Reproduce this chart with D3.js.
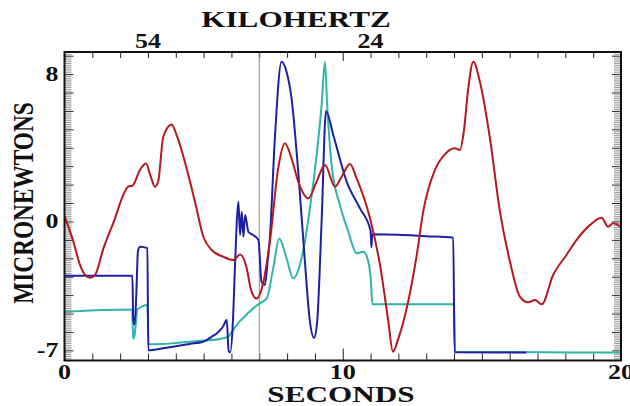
<!DOCTYPE html>
<html>
<head>
<meta charset="utf-8">
<script src="https://cdn.jsdelivr.net/npm/d3@7"></script>
<style>
body { margin: 0; background: #fff; }
.lbl { font-family: "Liberation Serif", "Times New Roman", serif; font-weight: bold; fill: #111; }
</style>
</head>
<body>
<div id="chart"></div>
<script>
// seconds, micronewtons
var redSeries = [[0,0.3],[0.32,-1.1],[0.56,-2.37],[0.74,-2.9],[0.92,-3.06],[1.1,-2.9],[1.4,-1.46],[1.8,0.1],[2.11,1.43],[2.29,1.89],[2.45,1.95],
  [2.71,2.79],[2.93,3.15],[3.1,2.43],[3.25,1.89],[3.37,2.2],[3.55,4.6],[3.85,5.27],[4.03,4.69],[4.39,2.88],[4.69,1.07],[4.99,-0.83],
  [5.29,-1.55],[5.71,-1.92],[6.07,-2.1],[6.31,-1.79],[6.55,-2.55],[6.7,-3.7],[6.9,-4.18],[7.15,-3.27],[7.38,-1.1],[7.68,2.88],[7.92,4.24],
  [8.16,3.42],[8.4,2.16],[8.76,1.25],[9.06,2.16],[9.36,3.06],[9.72,1.89],[9.96,2.43],[10.26,3.12],[10.5,2.34],[10.98,0.17],[11.34,-2.37],
  [11.64,-5.45],[11.8,-7.07],[12.0,-6.35],[12.35,-4.36],[12.66,-1.82],[12.89,0.53],[13.31,2.79],[13.67,3.64],[14.03,3.97],[14.21,3.88],
  [14.35,4.87],[14.51,7.22],[14.69,8.67],[14.93,7.58],[15.29,4.51],[15.65,0.53],[16.01,-2.19],[16.37,-4.09],[16.67,-4.39],[16.91,-4.27],
  [17.15,-4.5],[17.56,-2.91],[18.04,-1.82],[18.4,-1.01],[18.88,-0.2],[19.3,0.2],[19.54,-0.29],[19.72,-0.1],[20,-0.3]];

var blueSeries = [[0,-2.95],[2.44,-2.95],[2.47,-5.3],[2.52,-5.6],[2.58,-4.0],[2.64,-1.6],[2.72,-1.37],[2.98,-1.45],[3.01,-7.0],[3.5,-6.9],
  [4.0,-6.78],[4.5,-6.65],[4.99,-6.53],[5.3,-6.25],[5.47,-6.08],[5.7,-5.7],[5.83,-5.35],[5.9,-7.05],[5.96,-7.1],[6.05,-5.5],[6.13,-2.3],
  [6.2,0.2],[6.25,1.07],[6.31,-0.74],[6.37,0.53],[6.43,-0.83],[6.49,0.35],[6.61,-0.56],[6.78,-0.74],[6.97,-1.0],[7.08,-3.27],[7.2,-3.45],
  [7.3,-2.2],[7.38,-0.92],[7.56,4.51],[7.8,8.67],[7.98,8.13],[8.16,6.68],[8.4,2.7],[8.64,-2.19],[8.82,-5.45],[8.97,-6.31],[9.08,-5.45],
  [9.24,0],[9.4,5.99],[9.66,4.69],[10.14,2.16],[10.62,0.71],[11.0,-0.5],[11.03,-1.4],[11.06,-0.7],[12,-0.72],[13,-0.8],[13.97,-0.88],
  [14.02,-7.1],[16.6,-7.12]];

var cyanSeries = [[0,-4.9],[2.43,-4.78],[2.47,-6.3],[2.5,-6.35],[2.56,-5.6],[2.62,-4.78],[2.98,-4.54],[3.02,-6.67],[3.5,-6.66],[4.0,-6.6],
  [4.5,-6.53],[5.0,-6.47],[5.59,-6.38],[5.89,-6.26],[6.01,-6.0],[6.31,-5.4],[6.55,-5.05],[6.78,-4.72],[7.01,-4.45],[7.27,-4.18],[7.5,-2.55],
  [7.72,-0.92],[7.98,-2.0],[8.22,-3.09],[8.52,-2.0],[8.82,0.71],[9.06,3.6],[9.24,6.32],[9.36,8.67],[9.44,6.32],[9.6,3.06],[9.9,0.89],
  [10.2,-0.56],[10.5,-1.73],[10.74,-1.64],[10.92,-2.19],[11.0,-3.0],[11.07,-4.5],[14.0,-4.5],[14.03,-7.07],[20,-7.12]];

var xTickLabels = [0, 10, 20];
var yTickLabels = [8, 0, -7];
var khzTickPos = [3, 11];
var khzTickLabels = ["54", "24"];
var markerTime = 7;

var width = 630;
var height = 406;
var plotLeft = 64.5, plotRight = 621, plotTop = 52, plotBottom = 360.5;
var stretch = 1.3;

var svg = d3.select("#chart").append("svg").attr("width", width).attr("height", height);
svg.append("rect").attr("width", width).attr("height", height).attr("fill", "#fff");

var x = d3.scaleLinear().domain([0, 20]).range([plotLeft, plotRight]);
var y = d3.scaleLinear().domain([-7.55, 9.2]).range([plotBottom, plotTop]);

svg.append("clipPath").attr("id", "plotclip").append("rect")
  .attr("x", plotLeft).attr("y", plotTop).attr("width", plotRight - plotLeft).attr("height", plotBottom - plotTop);

// inward ticks, drawn with d3 axes
var seconds = d3.range(0, 21);
var minorY = d3.range(-75, 92).map(function(i) { return i / 10; });

function styleTicks(g, majorTest, majorLen, minorLen, sign, dir) {
  g.select(".domain").remove();
  g.selectAll(".tick line")
    .attr("stroke", function(d) { return majorTest(d) ? "#222" : "#9a9a9a"; })
    .attr("stroke-width", 1)
    .attr(dir, function(d) { return sign * (majorTest(d) ? majorLen : minorLen); });
}

svg.append("g").attr("transform", "translate(0," + plotBottom + ")")
  .call(d3.axisBottom(x).tickValues(seconds).tickFormat(""))
  .call(styleTicks, function(d) { return d % 10 === 0; }, 12, 7, -1, "y2")
  .selectAll(".tick line").attr("stroke", "#222");

svg.append("g").attr("transform", "translate(0," + plotTop + ")")
  .call(d3.axisTop(x).tickValues(seconds).tickFormat(""))
  .call(styleTicks, function(d) { return d % 10 === 0; }, 9, 6, 1, "y2")
  .selectAll(".tick line").attr("stroke", "#222");

svg.append("g").attr("transform", "translate(" + plotLeft + ",0)")
  .call(d3.axisLeft(y).tickValues(minorY).tickFormat(""))
  .call(styleTicks, function(d) { return Math.abs(d - Math.round(d)) < 1e-6; }, 9, 7, 1, "x2");

svg.append("g").attr("transform", "translate(" + plotRight + ",0)")
  .call(d3.axisRight(y).tickValues(minorY).tickFormat(""))
  .call(styleTicks, function(d) { return Math.abs(d - Math.round(d)) < 1e-6; }, 9, 7, -1, "x2");

// vertical marker line
svg.append("line")
  .attr("x1", x(markerTime)).attr("x2", x(markerTime))
  .attr("y1", plotTop).attr("y2", plotBottom)
  .attr("stroke", "#8a8a8a").attr("stroke-width", 1);

var line = d3.line()
  .curve(d3.curveMonotoneX)
  .x(function(d) { return x(d[0]); })
  .y(function(d) { return y(d[1]); });

var lines = svg.append("g").attr("clip-path", "url(#plotclip)");

lines.append("path").datum(cyanSeries).attr("d", line)
  .attr("fill", "none").attr("stroke", "#2fb5aa").attr("stroke-width", 2).attr("stroke-linejoin", "round");
lines.append("path").datum(blueSeries).attr("d", line)
  .attr("fill", "none").attr("stroke", "#1d20a6").attr("stroke-width", 2).attr("stroke-linejoin", "round");
lines.append("path").datum(redSeries).attr("d", line)
  .attr("fill", "none").attr("stroke", "#b5191e").attr("stroke-width", 2).attr("stroke-linejoin", "round");

// frame
svg.append("rect")
  .attr("x", plotLeft).attr("y", plotTop)
  .attr("width", plotRight - plotLeft).attr("height", plotBottom - plotTop)
  .attr("fill", "none").attr("stroke", "#111").attr("stroke-width", 2);

// labels (the source image is stretched sideways)
function label(px, py, str, size, anchor) {
  return svg.append("text")
    .attr("class", "lbl")
    .attr("transform", "translate(" + px + "," + py + ") scale(" + stretch + ",1)")
    .attr("text-anchor", anchor || "middle")
    .attr("font-size", size)
    .text(str);
}

xTickLabels.forEach(function(v) { label(x(v), 378.5, v, 20); });
yTickLabels.forEach(function(v) { label(58.5, y(v) + 7, v, 20, "end"); });
khzTickPos.forEach(function(t, i) { label(x(t), 48, khzTickLabels[i], 20); });

label(296, 26.5, "KILOHERTZ", 24);
label(341, 401.5, "SECONDS", 24);

svg.append("text")
  .attr("class", "lbl")
  .attr("transform", "translate(33.3,203) scale(" + stretch + ",1) rotate(-90)")
  .attr("text-anchor", "middle")
  .attr("font-size", 23.3)
  .text("MICRONEWTONS");
</script>
</body>
</html>
